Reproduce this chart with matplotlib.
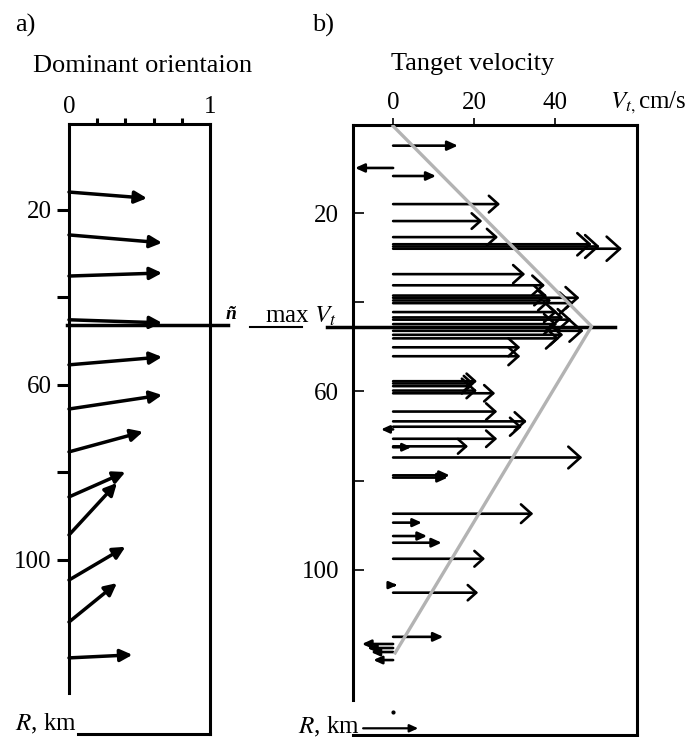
import numpy as np
import matplotlib
matplotlib.use("Agg")
import matplotlib.pyplot as plt

plt.rcParams['font.family'] = ['Liberation Serif', 'DejaVu Serif']
plt.rcParams['mathtext.fontset'] = 'stix'

W, H = 688, 737

# a) dominant orientation: arrow starts on the R axis (x=0), ends at (a_x1, a_r1)
a_r0 = [15.9, 25.7, 35.1, 45.1, 55.4, 65.5, 75.3, 85.6, 94.3, 104.6, 114.2, 122.4]
a_x1 = [0.553, 0.66, 0.66, 0.66, 0.66, 0.66, 0.525, 0.40, 0.34, 0.40, 0.34, 0.45]
a_r1 = [17.3, 27.5, 34.4, 45.8, 53.6, 62.3, 70.7, 79.9, 82.4, 97.0, 105.3, 121.7]

# b) tangent velocity: horizontal arrows from V=0 at radius b_r
b_r = [4.9, 9.9, 11.7, 18.0, 21.8, 25.4, 27.0, 27.5, 28.0,
       33.7, 36.2, 38.5, 39.0, 39.6, 40.2, 42.2, 43.4, 43.9, 44.9, 46.4, 47.3, 48.1,
       50.1, 52.1, 57.7, 58.2, 58.8, 59.8, 60.4, 64.5, 66.7, 67.9, 68.5, 70.6,
       72.3, 72.5, 74.8, 78.8, 79.3, 87.4, 89.4, 92.4, 93.9, 97.5, 103.4, 105.1,
       115.0, 116.6, 117.5, 118.4, 120.2]
b_v = [16.0, -9.4, 10.6, 26.4, 22.0, 25.9, 49.0, 51.0, 56.5,
       32.6, 37.5, 38.0, 46.0, 39.0, 44.5, 40.5, 42.0, 44.0, 40.5, 47.0, 42.0, 41.0,
       31.4, 31.4, 20.7, 20.0, 19.5, 20.7, 25.2, 25.7, 33.0, 31.8, -3.0, 25.7,
       18.5, 4.5, 46.7, 14.0, 13.5, 34.6, 7.1, 8.4, 12.0, 22.7, 1.0, 21.0,
       12.4, -7.7, -6.4, -5.5, -4.9]
# stray arrow below the axis end
b_odd_r = 135.5
b_odd_v = [-7.4, 6.2]

# grey envelope
env_v = [0, 49, 0.5]
env_r = [0.5, 45.4, 118.6]

r_max_a = 46.4
r_max_b = 45.6


def fx(x):
    return x / W


def fy(y):
    return 1 - y / H


fig = plt.figure(figsize=(W / 100, H / 100), dpi=100)

# ---------- panel a ----------
ax_a = fig.add_axes([fx(69), fy(734), fx(210) - fx(69), fy(124) - fy(734)])
ax_a.set_xlim(0, 1)
ax_a.set_ylim(139.8, 0.34)
for s in ax_a.spines.values():
    s.set_linewidth(2.2)
ax_a.spines['left'].set_bounds(0.34, 130.5)
ax_a.spines['bottom'].set_bounds(0.064, 1)
ax_a.xaxis.tick_top()
ax_a.set_xticks([0, 1])
ax_a.set_xticklabels(['0', '1'])
ax_a.set_xticks([0.2, 0.4, 0.6, 0.8], minor=True)
ax_a.tick_params(axis='x', which='major', length=0, pad=4, labelsize=18)
ax_a.tick_params(axis='x', which='minor', length=4, width=2.2, direction='out')
ax_a.set_yticks([20, 40, 60, 80, 100])
ax_a.set_yticklabels(['20', '', '60', '', '100'])
ax_a.tick_params(axis='y', length=8.5, width=2.2, direction='out', pad=4, labelsize=18)

for r0, x1, r1 in zip(a_r0, a_x1, a_r1):
    ax_a.annotate('', xy=(x1, r1), xytext=(0, r0),
                  arrowprops=dict(arrowstyle='-|>,head_length=0.6,head_width=0.3',
                                  lw=2.5, color='k', shrinkA=0, shrinkB=0,
                                  mutation_scale=12))
ax_a.plot([-0.015, 1.13], [r_max_a, r_max_a], color='k', lw=2.5, clip_on=False)

# ---------- panel b ----------
ax_b = fig.add_axes([fx(353), fy(735), fx(637) - fx(353), fy(125) - fy(735)])
ax_b.set_xlim(-9.9, 60.2)
ax_b.set_ylim(137.0, 0.27)
for s in ax_b.spines.values():
    s.set_linewidth(2.2)
ax_b.spines['left'].set_bounds(0.27, 129.2)
ax_b.xaxis.tick_top()
ax_b.set_xticks([0, 20, 40])
ax_b.tick_params(axis='x', length=5, width=1.2, direction='out', pad=3, labelsize=18)
ax_b.set_yticks([20, 40, 60, 80, 100])
ax_b.set_yticklabels(['20', '', '60', '', '100'])
ax_b.tick_params(axis='y', length=8, width=1.2, direction='in', pad=10, labelsize=18)

for r, v in zip(b_r, b_v):
    ms = 8 + 0.2 * abs(v)
    if abs(v) < 18:
        style = '-|>,head_length=0.55,head_width=0.25'
    else:
        style = '->,head_length=0.5,head_width=0.45'
    ax_b.annotate('', xy=(v, r), xytext=(0, r),
                  arrowprops=dict(arrowstyle=style, lw=1.9, color='k',
                                  shrinkA=0, shrinkB=0, mutation_scale=ms),
                  annotation_clip=False)
ax_b.annotate('', xy=(b_odd_v[1], b_odd_r), xytext=(b_odd_v[0], b_odd_r),
              arrowprops=dict(arrowstyle='-|>,head_length=0.55,head_width=0.25',
                              lw=1.6, color='k', shrinkA=0, shrinkB=0,
                              mutation_scale=9),
              annotation_clip=False)
ax_b.plot([0], [131.9], marker='o', ms=2, color='k')

ax_b.plot(env_v, env_r, color='#b3b3b3', lw=2.4, zorder=5)
ax_b.plot([-16.3, 54.8], [r_max_b, r_max_b], color='k', lw=2.5, clip_on=False, zorder=4)
ax_b.plot([-35.3, -22.5], [r_max_b, r_max_b], color='k', lw=1.5, clip_on=False)

# ---------- texts ----------
fig.text(fx(15), fy(25), 'a)', fontsize=19, ha='left', va='center')
fig.text(fx(312), fy(25), 'b)', fontsize=19, ha='left', va='center')
fig.text(fx(143), fy(72), 'Dominant orientaion', fontsize=19, ha='center', va='baseline')
fig.text(fx(473), fy(70), 'Tanget velocity', fontsize=19, ha='center', va='baseline')
fig.text(fx(610), fy(108), r'$V_{t,}$cm/s', fontsize=18, ha='left', va='baseline')
fig.text(fx(265), fy(323), r'max $V_t$', fontsize=18, ha='left', va='baseline')
fig.text(fx(226), fy(319), 'ñ', fontsize=14, fontweight='bold', fontstyle='italic',
         ha='left', va='baseline')
fig.text(fx(15), fy(730), r'$R$, km', fontsize=18, ha='left', va='baseline')
fig.text(fx(298), fy(733), r'$R$, km', fontsize=18, ha='left', va='baseline')

fig.savefig('out.png', dpi=100)
